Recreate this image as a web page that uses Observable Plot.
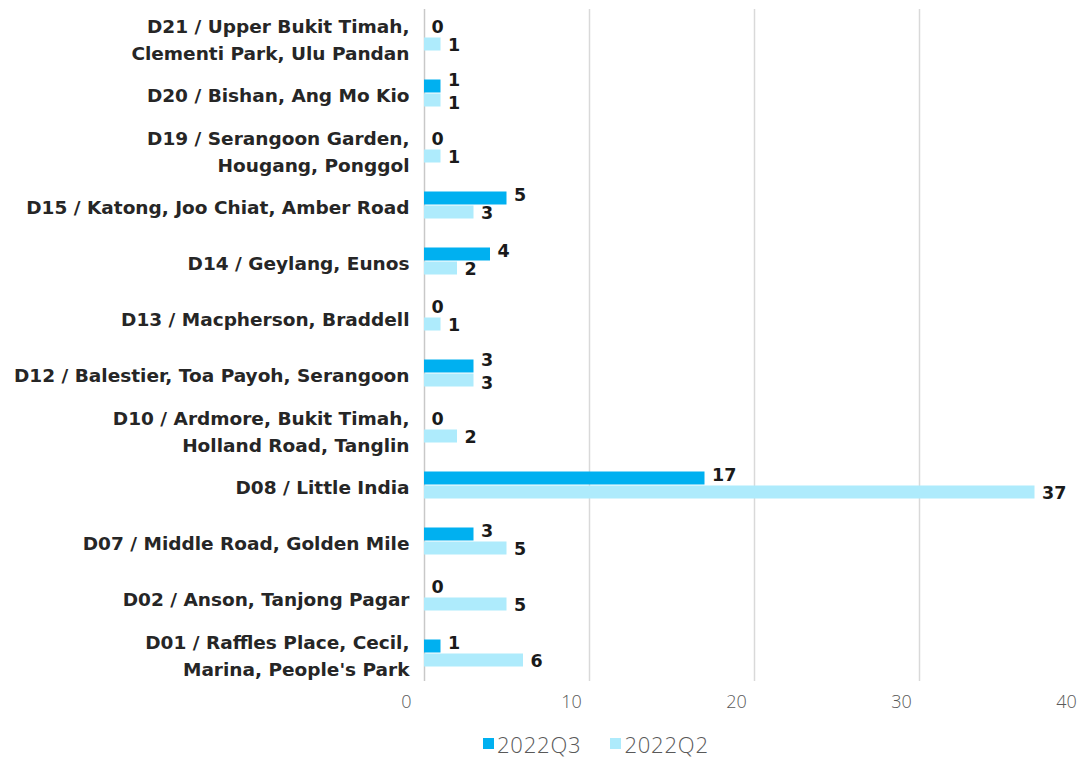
<!DOCTYPE html>
<html><head><meta charset="utf-8">
<script src="https://cdn.jsdelivr.net/npm/d3@7"></script>
<script src="https://cdn.jsdelivr.net/npm/@observablehq/plot@0.6"></script>
<style>
html,body{margin:0;padding:0;background:#fff;}
#chart{width:1078px;}
#legend{display:flex;align-items:center;height:37px;margin-left:483px;font-family:"Open Sans",sans-serif;font-weight:300;font-size:22px;letter-spacing:0.8px;color:#595959;}
#legend .sw{width:11px;height:11px;display:inline-block;margin-right:3px;}
#legend .item{display:flex;align-items:center;margin-right:29px;}
</style></head>
<body><div id="chart"></div>
<script>
const categories = ["D21","D20","D19","D15","D14","D13","D12","D10","D08","D07","D02","D01"];
const categoryLabels = [
  "D21 / Upper Bukit Timah,\nClementi Park, Ulu Pandan",
  "D20 / Bishan, Ang Mo Kio",
  "D19 / Serangoon Garden,\nHougang, Ponggol",
  "D15 / Katong, Joo Chiat, Amber Road",
  "D14 / Geylang, Eunos",
  "D13 / Macpherson, Braddell",
  "D12 / Balestier, Toa Payoh, Serangoon",
  "D10 / Ardmore, Bukit Timah,\nHolland Road, Tanglin",
  "D08 / Little India",
  "D07 / Middle Road, Golden Mile",
  "D02 / Anson, Tanjong Pagar",
  "D01 / Raffles Place, Cecil,\nMarina, People's Park"
];
const series = ["2022Q3","2022Q2"];
const q3 = [0,1,0,5,4,0,3,0,17,3,0,1];
const q2 = [1,1,1,3,2,1,3,2,37,5,5,6];
const xTicks = [0,10,20,30,40];
const colors = ["#00B0F0","#AEEBFC"];

const rows = [];
categories.forEach((c,i)=>{
  rows.push({cat:c, series:"2022Q3", value:q3[i], tie:q3[i]===q2[i]});
  rows.push({cat:c, series:"2022Q2", value:q2[i], tie:q3[i]===q2[i]});
});
const labelOf = Object.fromEntries(categories.map((c,i)=>[c,categoryLabels[i]]));

const boldFont = "'DejaVu Sans', sans-serif";
const valueText = (subset, dy) => Plot.text(subset, {fy:"cat", y:"series", x:"value", text:d=>String(d.value), dx:7, dy, textAnchor:"start", fontFamily:boldFont, fontWeight:700, fontSize:17.5, fill:"#1a1a1a"});
const chart = Plot.plot({
  width: 1078,
  height: 725,
  marginTop: 9,
  marginBottom: 44,
  marginLeft: 424,
  marginRight: -6,
  style: {background:"#fff"},
  x: {domain:[0,40], axis:null},
  y: {domain: series, axis:null, paddingInner:0, paddingOuter:0.93},
  fy: {domain: categories, axis:null, padding:0},
  color: {domain: series, range: colors},
  marks: [
    Plot.ruleX([10,20,30], {stroke:"#d9d9d9", strokeWidth:1.5}),
    Plot.ruleX([0], {stroke:"#c8c8c8", strokeWidth:1.5}),
    Plot.barX(rows, {fy:"cat", y:"series", x:"value", fill:"series", insetTop:0.5, insetBottom:0.5}),
    valueText(rows.filter(d=>d.series==="2022Q3" && !d.tie), -3),
    valueText(rows.filter(d=>d.series==="2022Q2" && !d.tie), 1),
    valueText(rows.filter(d=>d.series==="2022Q3" && d.tie), -6),
    valueText(rows.filter(d=>d.series==="2022Q2" && d.tie), 3),
    Plot.text(categories, {fy:d=>d, text:d=>labelOf[d], frameAnchor:"left", textAnchor:"end", lineAnchor:"middle", dx:-15, lineHeight:1.5, fontFamily:boldFont, fontWeight:700, fontSize:18.5, fill:"#262626"}),
    Plot.axisX(xTicks, {anchor:"bottom", tickSize:0, tickPadding:0, dx:-18, dy:14, fontSize:18, fontFamily:"'Open Sans', sans-serif", fontWeight:300, color:"#595959", label:null})
  ]
});
document.getElementById("chart").appendChild(chart);
const leg = document.createElement("div");
leg.id = "legend";
series.forEach((s,i)=>{
  const it = document.createElement("span"); it.className="item";
  const sw = document.createElement("span"); sw.className="sw"; sw.style.background=colors[i];
  it.appendChild(sw); it.appendChild(document.createTextNode(s));
  leg.appendChild(it);
});
document.body.appendChild(leg);
</script></body></html>
